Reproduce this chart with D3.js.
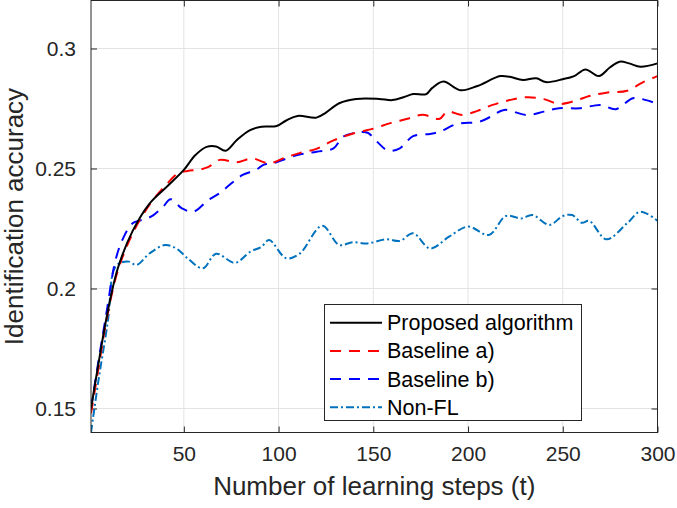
<!DOCTYPE html>
<html><head><meta charset="utf-8">
<script src="https://cdn.jsdelivr.net/npm/d3@7"></script>
<style>body{margin:0;background:#fff}svg{display:block}text{font-family:"Liberation Sans",Arial,Helvetica,sans-serif}</style>
</head><body>
<svg id="c" width="677" height="508"></svg>
<script>
const xTicks = [50, 100, 150, 200, 250, 300];
const yTicks = [0.15, 0.2, 0.25, 0.3];
const seriesNames = ["Proposed algorithm", "Baseline a)", "Baseline b)", "Non-FL"];

const tProposed = [1,5,9,15,23,32,41,50,56,62,67,72,78,85,91,99,104,110,120,125,132,141,153,160,166,171,178,181,187,196,205,217,222,229,236,241,250,256,262,269,275,280,285,291,300];
const vProposed = [0.150,0.169,0.187,0.208,0.224,0.2355,0.2424,0.2494,0.2555,0.259,0.2592,0.2574,0.2619,0.266,0.2674,0.2677,0.270,0.2719,0.2712,0.2733,0.2772,0.279,0.279,0.2785,0.2797,0.281,0.281,0.2835,0.2862,0.2826,0.2844,0.2885,0.2882,0.2869,0.2876,0.286,0.2872,0.2885,0.2913,0.2885,0.2922,0.2945,0.2938,0.2924,0.2938];

const tBaseA = [1,5,9,15,23,32,41,47,52,58,63,69,78,86,95,104,111,120,129,139,150,159,168,176,185,189,197,205,213,222,231,240,248,257,264,273,284,292,300];
const vBaseA = [0.148,0.167,0.186,0.207,0.223,0.235,0.2435,0.248,0.249,0.2495,0.2507,0.2536,0.2526,0.2542,0.2522,0.2547,0.2564,0.2582,0.2617,0.2645,0.2666,0.2689,0.2707,0.2724,0.2707,0.2737,0.2723,0.274,0.2765,0.2785,0.2797,0.2789,0.2769,0.2783,0.2802,0.2816,0.2824,0.2858,0.2885];

const tBaseB = [1,5,9,14,18,23,30,34,39,43,49,55,63,69,76,81,88,92,97,110,120,129,134,141,147,152,158,164,171,180,185,194,206,212,219,231,240,248,259,270,278,287,294,300];
const vBaseB = [0.150,0.170,0.189,0.212,0.221,0.2272,0.229,0.2306,0.234,0.2372,0.2334,0.232,0.2369,0.2398,0.2444,0.2473,0.2494,0.2515,0.2522,0.2556,0.257,0.2584,0.2632,0.2649,0.2649,0.2611,0.2574,0.2584,0.2635,0.2644,0.2653,0.2685,0.2695,0.2716,0.2744,0.2723,0.2737,0.2751,0.2751,0.2765,0.2747,0.2793,0.2785,0.2769];

const tNonFL = [1,5,10,13,16,21,25,32,40,46,52,60,67,77,85,91,95,104,111,123,132,139,147,157,164,171,180,190,200,211,220,228,234,243,250,255,260,264,273,284,291,300];
const vNonFL = [0.140,0.162,0.187,0.2077,0.2105,0.2112,0.2098,0.2147,0.2181,0.2167,0.2126,0.2084,0.2145,0.2107,0.2153,0.2174,0.2202,0.2126,0.2144,0.2261,0.2181,0.2193,0.2188,0.2205,0.2198,0.223,0.2167,0.2216,0.2258,0.2223,0.2302,0.2292,0.2306,0.2265,0.2302,0.2306,0.2274,0.2282,0.2205,0.2272,0.232,0.2282];

const L = 91, R = 657.5, T = 0.5, B = 432.5;
const svg = d3.select("#c");
const x = d3.scaleLinear().domain([1, 300]).range([L, R]);
const y = d3.scaleLinear().domain([0.14, 0.32]).range([B, T]);
const axisCol = "#262626";

// grid
const g = svg.append("g");
g.selectAll(".gx").data(xTicks).enter().append("line")
  .attr("x1", d => x(d)).attr("x2", d => x(d)).attr("y1", T).attr("y2", B)
  .attr("stroke", "#e3e3e3").attr("stroke-width", 1);
g.selectAll(".gy").data(yTicks).enter().append("line")
  .attr("x1", L).attr("x2", R).attr("y1", d => y(d)).attr("y2", d => y(d))
  .attr("stroke", "#e3e3e3").attr("stroke-width", 1);

// axes with inward ticks
const xAxisB = d3.axisBottom(x).tickValues(xTicks).tickSizeInner(-6).tickSizeOuter(0).tickPadding(14).tickFormat(d3.format("d"));
const xAxisT = d3.axisTop(x).tickValues(xTicks).tickSizeInner(-6).tickSizeOuter(0).tickFormat("");
const yAxisL = d3.axisLeft(y).tickValues(yTicks).tickSizeInner(-6).tickSizeOuter(0).tickPadding(15).tickFormat(d => String(d));
const yAxisR = d3.axisRight(y).tickValues(yTicks).tickSizeInner(-6).tickSizeOuter(0).tickFormat("");

function style(sel){
  sel.select(".domain").remove();
  sel.selectAll("line").attr("stroke", axisCol);
  sel.selectAll("text").attr("fill", axisCol).style("font-size", "21px").style("font-family", '"Liberation Sans",Arial,sans-serif');
}
svg.append("g").attr("transform", `translate(0,${B})`).call(xAxisB).call(style);
svg.append("g").attr("transform", `translate(0,${T})`).call(xAxisT).call(style);
svg.append("g").attr("transform", `translate(${L},0)`).call(yAxisL).call(style);
svg.append("g").attr("transform", `translate(${R},0)`).call(yAxisR).call(style);

// clip
svg.append("clipPath").attr("id", "clip").append("rect")
  .attr("x", L).attr("y", T).attr("width", R - L).attr("height", B - T);

const series = [
  {name: seriesNames[0], t: tProposed, v: vProposed, color: "#000000", dash: null},
  {name: seriesNames[1], t: tBaseA, v: vBaseA, color: "#ff0000", dash: "11,8"},
  {name: seriesNames[2], t: tBaseB, v: vBaseB, color: "#0000ff", dash: "11,8"},
  {name: seriesNames[3], t: tNonFL, v: vNonFL, color: "#0072bd", dash: "8,3,2,3"}
];
const line = d3.line().x(d => x(d[0])).y(d => y(d[1])).curve(d3.curveCatmullRom.alpha(0.5));
const lg = svg.append("g").attr("clip-path", "url(#clip)");
series.slice().reverse().forEach(s => {
  lg.append("path").datum(s.t.map((t, i) => [t, s.v[i]]))
    .attr("d", line).attr("fill", "none").attr("stroke", s.color)
    .attr("stroke-width", 2).attr("stroke-dasharray", s.dash)
    .attr("stroke-linejoin", "round");
});

// frame
svg.append("rect").attr("x", L).attr("y", T).attr("width", R - L).attr("height", B - T)
  .attr("fill", "none").attr("stroke", axisCol).attr("stroke-width", 1);

// axis labels
svg.append("text").attr("x", (L + R) / 2).attr("y", 495).attr("text-anchor", "middle")
  .attr("fill", axisCol).style("font-size", "26px").text("Number of learning steps (t)");
svg.append("text").attr("transform", `translate(23,216.5) rotate(-90)`).attr("text-anchor", "middle")
  .attr("fill", axisCol).style("font-size", "26px").text("Identification accuracy");

// legend
const leg = svg.append("g");
leg.append("rect").attr("x", 324.5).attr("y", 304.5).attr("width", 257).attr("height", 116)
  .attr("fill", "#fff").attr("stroke", axisCol).attr("stroke-width", 1);
series.forEach((s, i) => {
  const yy = 322.7 + i * 28.2;
  leg.append("line").attr("x1", 330).attr("x2", 382).attr("y1", yy).attr("y2", yy)
    .attr("stroke", s.color).attr("stroke-width", 2).attr("stroke-dasharray", s.dash);
  leg.append("text").attr("x", 387).attr("y", yy).attr("dy", "0.35em")
    .attr("fill", "#000").style("font-size", "21.5px").text(s.name);
});
</script>
</body></html>
